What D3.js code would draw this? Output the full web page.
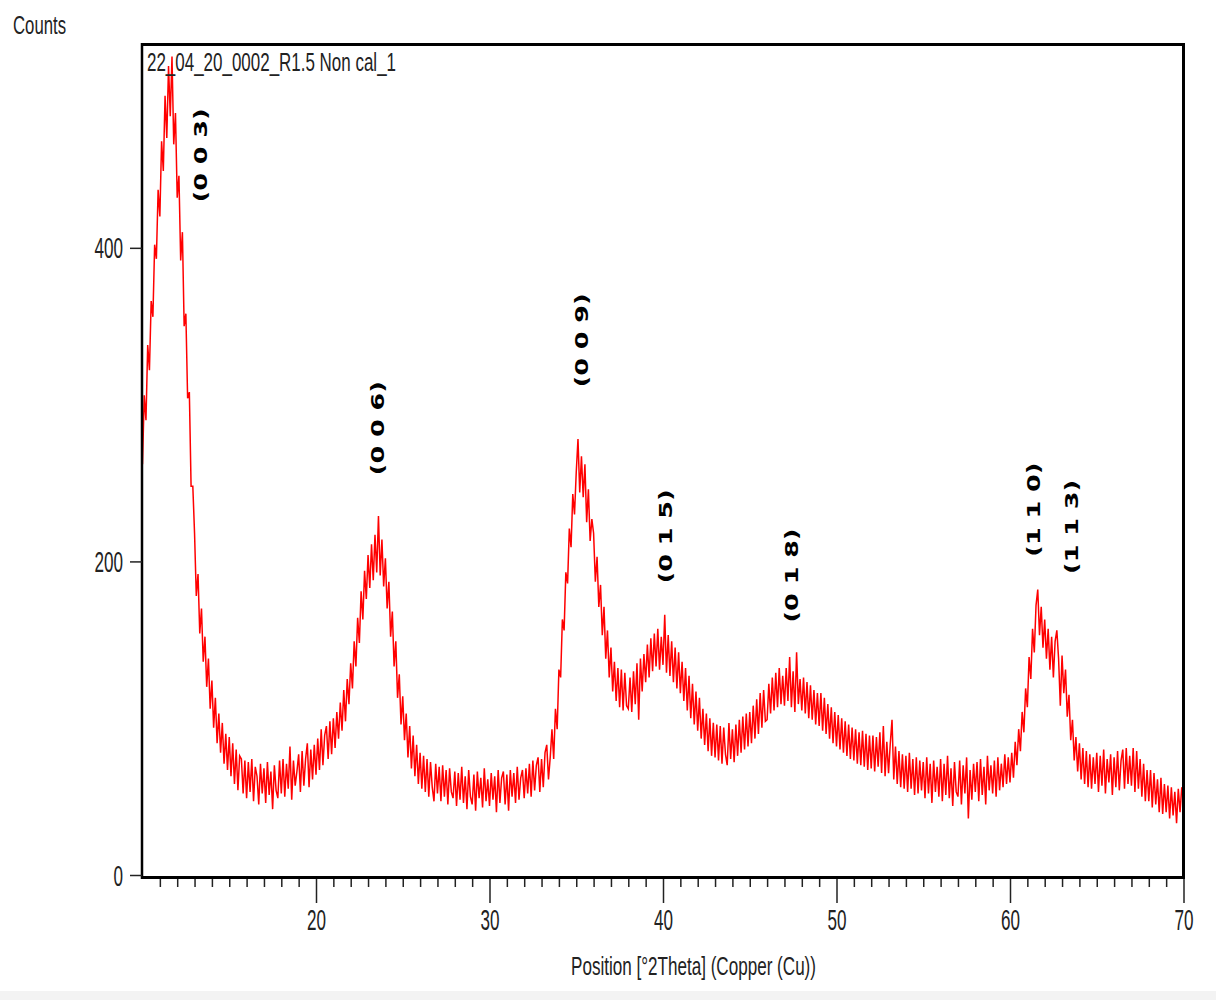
<!DOCTYPE html>
<html>
<head>
<meta charset="utf-8">
<script src="https://cdn.jsdelivr.net/npm/d3@7"></script>
<style>
  html, body { margin: 0; padding: 0; background: #fff; }
  svg { display: block; }
</style>
</head>
<body>
<svg id="chart" width="1216" height="1000"></svg>
<script>
// ---------- data ----------
const startTheta = 10;     // first sample, °2Theta
const stepTheta = 0.1;     // sampling step, °2Theta
// counts, one row per degree (10.0 ... 70.0)
const counts = [
  262,306,290,338,322,366,356,402,393,437,   // 10
  420,468,449,497,470,516,484,522,466,486,   // 11
  432,446,392,410,350,358,304,308,248,248,   // 12
  218,178,192,154,170,136,152,120,138,106,   // 13
  124,94,113,84,103,78,97,71,90,67,          // 14
  88,63,84,58,80,54,76,74,52,73,             // 15
  49,72,53,74,47,69,63,45,71,52,             // 16
  68,46,72,51,66,42,70,54,49,73,             // 17
  52,74,50,71,55,82,48,73,57,66,             // 18
  77,53,79,57,74,84,56,80,61,83,             // 19
  64,87,67,93,70,89,95,74,98,77,             // 20
  100,81,104,87,110,92,118,98,125,109,       // 21
  135,119,149,133,164,148,181,163,194,176,   // 22
  204,183,211,188,217,193,229,191,214,184,   // 23
  202,170,187,152,168,133,149,113,128,96,    // 24
  114,86,103,75,95,68,89,63,83,58,           // 25
  78,55,76,53,74,50,72,56,47,71,             // 26
  52,69,47,70,50,67,45,68,53,49,             // 27
  66,44,65,48,69,46,63,42,67,50,             // 28
  45,64,41,66,49,62,43,68,47,61,             // 29
  44,65,48,63,40,67,46,62,66,45,             // 30
  64,41,67,50,65,46,69,48,62,67,             // 31
  49,68,52,71,50,73,54,70,75,53,             // 32
  74,56,78,83,61,75,93,74,106,93,            // 33
  131,126,163,156,193,186,221,209,243,230,   // 34
  257,278,244,267,241,262,225,246,213,227,   // 35
  218,187,203,171,185,153,171,138,156,126,   // 36
  145,117,136,111,132,107,131,105,129,108,   // 37
  106,126,104,130,109,135,99,138,117,141,    // 38
  123,147,126,151,130,154,133,157,131,152,   // 39
  134,166,129,153,127,149,123,145,119,142,   // 40
  116,136,111,132,105,127,100,122,96,117,    // 41
  92,113,87,106,83,103,79,100,76,97,         // 42
  75,96,73,95,71,94,77,70,97,74,             // 43
  93,72,96,76,99,78,101,80,103,82,           // 44
  104,84,108,87,112,90,116,94,118,98,        // 45
  99,122,103,126,105,129,107,132,109,127,    // 46
  108,132,111,139,107,130,104,142,109,125,   // 47
  105,126,103,123,100,121,99,118,96,116,     // 48
  95,116,92,113,90,109,87,107,84,104,        // 49
  82,102,80,100,78,98,76,96,74,94,           // 50
  73,93,71,91,70,92,69,90,67,89,             // 51
  68,89,66,88,69,91,65,95,63,85,             // 52
  65,84,99,61,82,58,79,56,77,55,             // 53
  76,53,78,55,74,51,75,52,73,54,             // 54
  72,49,75,52,71,46,73,53,69,50,             // 55
  74,47,71,51,76,49,68,44,72,53,             // 56
  50,73,45,70,52,75,36,67,48,71,             // 57
  53,72,47,74,51,69,45,76,54,70,             // 58
  52,73,50,75,54,71,56,77,58,75,             // 59
  59,78,62,85,70,93,79,104,91,119,           // 60
  107,139,125,157,142,172,182,153,171,145,   // 61
  163,138,157,131,152,126,149,156,138,108,   // 62
  140,116,131,101,115,86,99,73,88,66,        // 63
  84,61,81,58,79,56,77,55,75,58,             // 64
  78,53,76,57,80,52,74,59,77,51,             // 65
  75,56,79,54,73,80,55,81,58,76,             // 66
  57,81,53,79,55,74,50,71,47,67,             // 67
  47,67,43,65,45,61,40,62,39,58,             // 68
  40,57,36,56,38,53,33,55,40,56,             // 69
  48                                         // 70
];

// peak annotations (Miller indices) with anchor in data coordinates
const hklLabels = ["(0 0 3)", "(0 0 6)", "(0 0 9)", "(0 1 5)", "(0 1 8)", "(1 1 0)", "(1 1 3)"];
const hklTheta  = [13.37, 23.52, 35.33, 40.12, 47.38, 61.38, 63.52];
const hklCount  = [459, 285, 341, 216, 191, 233, 222];

const xMajorTicks = [20, 30, 40, 50, 60, 70];
const xMinorTicks = d3.range(11, 70).filter(v => v % 10 !== 0);
const yTicks = [0, 200, 400];
const xDomain = [10, 70];
const yDomain = [0, 530];

const sampleName = "22_04_20_0002_R1.5 Non cal_1";
const yTitle = "Counts";
const xTitle = "Position [°2Theta] (Copper (Cu))";

// ---------- layout ----------
const plot = { left: 142.5, right: 1183.5, top: 44, bottom: 875 };
const digitW = 9.5;

const svg = d3.select("#chart");
const x = d3.scaleLinear().domain(xDomain).range([plot.left, plot.right]);
const y = d3.scaleLinear().domain(yDomain).range([plot.bottom, plot.top]);

const series = counts.map((c, i) => ({ t: startTheta + i * stepTheta, c }));

// bottom light strip of the screenshot
svg.append("rect").attr("x", 0).attr("y", 991).attr("width", 1216).attr("height", 9).attr("fill", "#f3f3f3");

// clip
svg.append("defs").append("clipPath").attr("id", "clip")
  .append("rect").attr("x", plot.left).attr("y", plot.top)
  .attr("width", plot.right - plot.left).attr("height", plot.bottom - plot.top + 2);

// data line
const line = d3.line().x(d => x(d.t)).y(d => y(d.c));
svg.append("path")
  .datum(series)
  .attr("clip-path", "url(#clip)")
  .attr("fill", "none")
  .attr("stroke", "#ff0000")
  .attr("stroke-width", 1.5)
  .attr("stroke-linejoin", "miter")
  .attr("d", line);

// frame
const frame = svg.append("g").attr("stroke", "#000");
frame.append("line").attr("x1", 141).attr("x2", 1185).attr("y1", 44.5).attr("y2", 44.5).attr("stroke-width", 3);
frame.append("line").attr("x1", 142).attr("x2", 142).attr("y1", 43).attr("y2", 879).attr("stroke-width", 2.5);
frame.append("line").attr("x1", 1183.5).attr("x2", 1183.5).attr("y1", 43).attr("y2", 879).attr("stroke-width", 3);
frame.append("line").attr("x1", 141).attr("x2", 1185).attr("y1", 877.5).attr("y2", 877.5).attr("stroke-width", 3);

const textColor = "#222";
const font = "'Liberation Sans', Arial, sans-serif";

// x axis minor ticks
const axisY = 879;
svg.append("g")
  .attr("transform", `translate(0,${axisY})`)
  .call(d3.axisBottom(x).tickValues(xMinorTicks).tickSize(8).tickFormat(""))
  .call(g => g.select(".domain").remove())
  .call(g => g.selectAll("line").attr("stroke", "#222").attr("stroke-width", 1.5));

// x axis major ticks + labels
svg.append("g")
  .attr("transform", `translate(0,${axisY})`)
  .call(d3.axisBottom(x).tickValues(xMajorTicks).tickSize(24).tickFormat(d3.format("d")))
  .call(g => g.select(".domain").remove())
  .call(g => g.selectAll("line").attr("stroke", "#222").attr("stroke-width", 1.5))
  .call(g => g.selectAll("text")
    .attr("y", 51).attr("dy", null)
    .attr("fill", textColor)
    .attr("font-family", font).attr("font-size", 29)
    .attr("textLength", function(d) { return String(d).length * digitW; })
    .attr("lengthAdjust", "spacingAndGlyphs"));

// y axis
svg.append("g")
  .attr("transform", `translate(${142},0)`)
  .call(d3.axisLeft(y).tickValues(yTicks).tickSize(12).tickPadding(7).tickFormat(d3.format("d")))
  .call(g => g.select(".domain").remove())
  .call(g => g.selectAll("line").attr("stroke", "#222").attr("stroke-width", 1.5))
  .call(g => g.selectAll("text")
    .attr("fill", textColor)
    .attr("font-family", font).attr("font-size", 29)
    .attr("dy", "0.35em")
    .attr("textLength", function(d) { return String(d).length * digitW; })
    .attr("lengthAdjust", "spacingAndGlyphs"));

// titles
svg.append("text").text(yTitle)
  .attr("x", 13).attr("y", 34)
  .attr("fill", textColor).attr("font-family", font).attr("font-size", 26)
  .attr("textLength", 53).attr("lengthAdjust", "spacingAndGlyphs");

svg.append("text").text(xTitle)
  .attr("x", 571).attr("y", 975)
  .attr("fill", textColor).attr("font-family", font).attr("font-size", 25)
  .attr("textLength", 245).attr("lengthAdjust", "spacingAndGlyphs");

svg.append("text").text(sampleName)
  .attr("x", 147).attr("y", 71)
  .attr("fill", textColor).attr("font-family", font).attr("font-size", 25)
  .attr("textLength", 249).attr("lengthAdjust", "spacingAndGlyphs");

// hkl annotations
svg.append("g").selectAll("text")
  .data(hklLabels)
  .join("text")
  .attr("transform", (d, i) => `translate(${x(hklTheta[i])},${y(hklCount[i])}) rotate(-90)`)
  .attr("text-anchor", "middle")
  .attr("dominant-baseline", "central")
  .attr("font-family", "'DejaVu Sans', Verdana, sans-serif")
  .attr("font-weight", "bold")
  .attr("font-size", 18)
  .attr("fill", "#000")
  .attr("textLength", 94)
  .attr("lengthAdjust", "spacingAndGlyphs")
  .text(d => d);
</script>
</body>
</html>
